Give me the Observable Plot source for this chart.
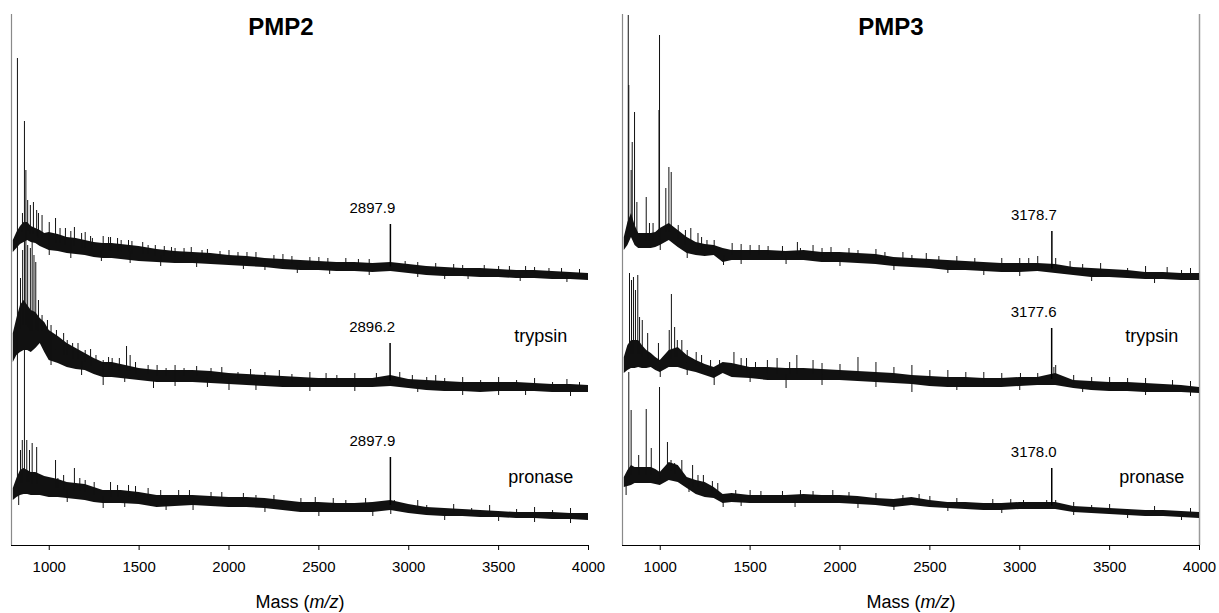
<!DOCTYPE html>
<html>
<head>
<meta charset="utf-8">
<script src="https://cdn.jsdelivr.net/npm/d3@7"></script>
<script src="https://cdn.jsdelivr.net/npm/@observablehq/plot@0.6"></script>
<style>
  html, body { margin: 0; padding: 0; background: #fff; }
  #wrap { position: relative; width: 1219px; height: 613px; font-family: "Liberation Sans", Arial, sans-serif; color: #000; }
  .panel { position: absolute; top: 0; }
  .title { position: absolute; width: 200px; text-align: center; font-weight: bold; font-size: 24px; line-height: 24px; top: 15px; }
  .xlabel { position: absolute; width: 240px; text-align: center; font-size: 18px; line-height: 18px; top: 593px; }
</style>
</head>
<body>
<div id="wrap">
  <div id="left" class="panel" style="left:0px"></div>
  <div id="right" class="panel" style="left:609px"></div>
  <div class="title" style="left:181px">PMP2</div>
  <div class="title" style="left:791px">PMP3</div>
  <div class="xlabel" style="left:180px">Mass (<i>m/z</i>)</div>
  <div class="xlabel" style="left:791px">Mass (<i>m/z</i>)</div>
</div>
<script>
// ---- shared mass grid (m/z) at which the noise band edges were read ----
const mass = [800, 820, 840, 860, 880, 900, 925, 950, 975, 1000, 1050, 1100, 1150, 1200, 1250, 1300, 1350, 1400, 1500, 1600, 1700, 1800, 1900, 2000, 2100, 2200, 2300, 2400, 2500, 2600, 2700, 2800, 2900, 3000, 3100, 3200, 3300, 3400, 3500, 3600, 3700, 3800, 3900, 4000];
const xTicks = [1000, 1500, 2000, 2500, 3000, 3500, 4000];
const enzymeNames = ["trypsin", "pronase"];
const enzymeLabelMass = 3735;
const enzymeLabelLevel = [40.8, 12.6];

// ---- PMP2 (offset intensity, arbitrary units) ----
const pmp2ControlHi = [61.0, 62.6, 63.8, 64.6, 64.6, 63.8, 63.4, 63.0, 62.4, 62.6, 62.2, 61.6, 61.4, 61.0, 60.6, 60.4, 60.4, 60.2, 59.8, 59.2, 58.8, 58.6, 58.4, 58.0, 57.8, 57.4, 57.2, 57.0, 56.8, 56.6, 56.6, 56.4, 56.6, 56.2, 55.8, 55.6, 55.4, 55.4, 55.2, 55.0, 55.0, 54.8, 54.6, 54.4];
const pmp2ControlLo = [58.6, 59.4, 60.2, 60.6, 61.0, 60.6, 60.4, 59.8, 59.4, 59.0, 58.8, 58.4, 58.2, 58.0, 57.6, 57.4, 57.4, 57.2, 56.8, 56.6, 56.4, 56.4, 56.2, 56.0, 55.8, 55.6, 55.2, 55.0, 55.0, 54.8, 54.8, 54.6, 54.8, 54.4, 54.0, 53.8, 53.8, 53.6, 53.6, 53.4, 53.4, 53.2, 53.2, 53.0];
const pmp2ControlSpikes = [[851,66.4],[880,69.0],[895,68.0],[912,68.6],[930,67.0],[940,66.4],[960,66.0],[1000,64.6],[1035,65.4],[1090,63.4],[1140,63.6],[1200,62.6],[1240,61.4],[1300,61.8],[1341,61.6],[1400,61.0],[1441,61.0],[1550,60.0],[1640,59.8],[1700,59.4],[1850,59.0],[2000,59.0],[2150,58.6],[2300,58.2],[2500,57.6],[2650,57.4],[3050,56.6],[3300,56.0],[3500,55.8],[3700,55.6],[3850,55.4],[1000,58.0],[1290,56.8],[2200,55.0],[3200,53.2],
  [1060,63.4],[1120,62.8],[1180,62.4],[1230,61.8],[1330,61.6],[1380,61.4],[1460,60.8],[1520,60.6],[1590,60.0],[1680,59.6],[1750,59.4],[1790,59.6],[1880,59.2],[1950,58.8],[2050,58.6],[2100,58.6],[2250,58.0],[2350,57.8],[2450,57.6],[2550,57.4],[2720,57.2],[2780,57.2],[2980,56.8],[3150,56.4],[3250,56.2],[3420,56.0],[3560,55.8],[3650,55.8],[3780,55.4],[3950,55.2],
  [1120,57.4],[1450,56.4],[1620,55.8],[1820,55.6],[2080,55.2],[2380,54.4],[2560,54.2],[2780,54.0],[3050,53.6],[3330,53.2],[3620,52.8],[3880,52.6]];

const pmp2TrypsinHi = [42.4, 45.4, 48.0, 49.0, 48.0, 47.0, 46.6, 45.4, 44.6, 43.0, 41.8, 40.4, 39.4, 38.4, 37.4, 36.6, 36.6, 36.2, 35.4, 35.0, 35.0, 35.0, 34.8, 34.4, 34.2, 34.0, 33.8, 33.6, 33.4, 33.4, 33.4, 33.4, 34.0, 33.2, 33.0, 32.8, 32.6, 32.6, 32.6, 32.6, 32.4, 32.2, 32.2, 32.0];
const pmp2TrypsinLo = [36.6, 38.0, 38.6, 39.0, 39.0, 38.6, 39.4, 40.4, 38.6, 37.0, 36.4, 35.6, 35.2, 35.0, 34.2, 33.6, 33.6, 33.4, 33.0, 32.6, 32.6, 32.6, 32.4, 32.2, 32.0, 31.8, 31.6, 31.6, 31.6, 31.6, 31.6, 31.6, 31.8, 31.4, 31.0, 30.8, 30.8, 30.6, 30.8, 30.8, 30.8, 30.6, 30.6, 30.6];
const pmp2TrypsinSpikes = [[840,53.4],[852,59.0],[870,75.0],[880,60.0],[895,59.4],[905,61.0],[915,58.0],[925,56.6],[940,49.0],[960,46.0],[990,45.0],[1010,44.0],[1040,43.0],[1080,42.4],[1100,41.0],[1130,40.4],[1200,39.0],[1260,38.0],[1300,37.0],[1350,37.4],[1430,39.8],[1450,38.0],[1550,36.0],[1650,35.4],[1750,35.4],[1900,35.4],[2050,34.6],[2200,34.6],[2350,34.2],[2600,34.0],[2950,34.6],[3100,33.6],[3200,33.4],[3400,33.0],[3600,33.0],[3800,32.6],[3950,32.6],[1010,36.0],[1300,32.0],[1580,31.4],[2000,31.0],[3500,30.0],
  [1160,40.4],[1230,39.2],[1330,37.6],[1390,37.4],[1480,36.6],[1600,36.0],[1700,36.0],[1820,35.8],[1960,35.6],[2120,35.2],[2280,35.0],[2450,34.6],[2540,34.4],[2700,34.4],[2820,34.4],[3020,34.0],[3150,34.0],[3300,33.6],[3500,33.6],[3700,33.4],[3880,33.2],
  [1180,34.0],[1420,32.6],[1700,31.8],[1880,31.6],[2150,31.0],[2450,30.8],[2700,30.8],[3050,30.6],[3300,30.0],[3650,30.0],[3900,29.8]];

const pmp2PronaseHi = [11.4, 13.4, 15.0, 15.4, 15.0, 14.6, 14.6, 14.2, 13.8, 13.6, 13.2, 12.6, 12.4, 12.2, 11.6, 11.0, 11.0, 11.0, 10.6, 10.0, 10.0, 10.0, 9.8, 9.6, 9.6, 9.4, 9.0, 8.6, 8.6, 8.4, 8.4, 8.6, 9.0, 8.2, 7.6, 7.4, 7.2, 7.0, 6.8, 6.6, 6.6, 6.6, 6.4, 6.4];
const pmp2PronaseLo = [9.0, 9.6, 10.0, 10.2, 10.2, 10.0, 10.0, 10.0, 9.8, 9.6, 9.6, 9.4, 9.2, 9.0, 8.6, 8.4, 8.4, 8.4, 8.2, 7.6, 7.8, 8.0, 7.8, 7.6, 7.6, 7.4, 7.0, 6.6, 6.6, 6.6, 6.6, 6.6, 7.0, 6.4, 6.0, 5.8, 5.8, 5.6, 5.6, 5.4, 5.4, 5.2, 5.2, 5.0];
const pmp2PronaseSpikes = [[823,97.4],[862,84.8],[840,19.0],[850,21.0],[875,21.0],[890,19.0],[905,20.4],[930,19.6],[1035,17.0],[1048,13.4],[1140,15.4],[1200,13.0],[1341,12.6],[1441,12.0],[1550,11.4],[1720,11.0],[1900,10.6],[2150,10.0],[2400,9.4],[2650,9.0],[2920,9.0],[3100,8.0],[3350,7.4],[3600,7.2],[3800,7.0],[830,8.0],[1300,7.4],[1650,7.0],[2900,6.2],[3700,4.6],
  [1080,14.0],[1170,13.4],[1250,12.6],[1380,12.0],[1480,11.8],[1620,11.0],[1780,11.0],[1960,10.6],[2080,10.4],[2250,10.0],[2480,9.6],[2580,9.4],[2760,9.4],[3050,9.0],[3250,8.2],[3450,8.0],[3700,7.6],[3900,7.4],
  [1100,8.6],[1420,7.6],[1800,7.0],[2200,6.6],[2500,5.8],[2800,5.8],[3200,5.0],[3500,4.8],[3900,4.4]];

const pmp2Peaks = [[2897.9, 64.2], [2896.2, 40.4], [2897.9, 17.6]];
const pmp2PeakLabels = ["2897.9", "2896.2", "2897.9"];

// ---- PMP3 ----
const pmp3ControlHi = [61.6, 64.6, 66.4, 64.0, 62.4, 62.4, 62.4, 62.4, 62.6, 63.4, 64.4, 63.0, 61.6, 60.6, 60.2, 60.0, 59.4, 59.0, 59.0, 59.0, 58.8, 59.0, 58.6, 58.6, 58.4, 58.2, 57.6, 57.4, 57.2, 57.0, 56.8, 56.6, 56.4, 56.4, 56.4, 56.2, 55.6, 55.4, 55.2, 55.0, 54.6, 54.6, 54.4, 54.4];
const pmp3ControlLo = [59.0, 60.0, 61.6, 60.0, 59.4, 59.4, 59.4, 59.4, 59.6, 60.0, 61.0, 59.6, 58.4, 58.0, 57.8, 58.0, 56.6, 57.0, 57.0, 57.0, 57.0, 57.0, 56.6, 56.6, 56.4, 56.2, 55.8, 55.6, 55.4, 55.0, 55.0, 54.8, 54.6, 54.6, 54.8, 54.4, 54.0, 53.6, 53.6, 53.4, 53.2, 53.2, 53.0, 53.0];
const pmp3ControlSpikes = [[822,106.0],[825,92.0],[838,75.0],[844,80.6],[857,86.6],[870,68.6],[922,69.6],[940,64.4],[960,64.4],[993,87.0],[996,102.0],[1031,71.4],[1048,75.6],[1061,74.6],[1100,64.0],[1140,63.0],[1170,63.4],[1210,62.4],[1260,61.0],[1400,60.4],[1500,60.0],[1600,59.8],[1763,60.6],[1780,59.4],[1900,59.4],[2100,59.0],[2250,58.6],[2400,58.0],[2550,57.8],[2750,57.4],[3000,57.4],[3100,57.8],[3200,57.4],[3350,56.2],[3600,55.4],[3900,55.0],[1352,56.0],[1000,59.0],[2800,54.0],
  [1230,61.6],[1300,61.0],[1450,60.2],[1550,60.0],[1680,59.8],[1850,60.0],[1950,59.6],[2050,59.4],[2200,59.2],[2350,58.6],[2480,58.4],[2650,57.8],[2900,57.4],[3050,57.4],[3280,56.8],[3450,56.4],[3700,55.8],[3820,55.6],[3950,55.4],
  [1150,57.4],[1450,56.2],[1700,56.2],[2000,55.8],[2300,55.0],[2600,54.4],[3000,53.8],[3400,52.8],[3750,52.4]];

const pmp3TrypsinHi = [37.6, 40.0, 41.0, 41.0, 41.0, 40.0, 39.0, 38.4, 37.6, 37.0, 39.0, 39.6, 38.0, 37.0, 36.2, 35.6, 36.6, 36.4, 35.6, 35.6, 35.4, 35.4, 35.2, 35.0, 34.8, 34.6, 34.4, 34.0, 33.8, 33.6, 33.6, 33.4, 33.4, 33.6, 33.6, 34.4, 33.0, 32.8, 32.6, 32.6, 32.4, 32.2, 32.0, 31.6];
const pmp3TrypsinLo = [34.4, 35.0, 35.4, 35.4, 35.6, 35.4, 35.4, 35.6, 35.0, 34.6, 35.6, 35.6, 35.0, 34.6, 34.0, 33.4, 34.4, 33.6, 33.4, 33.0, 33.0, 33.0, 33.0, 33.0, 32.8, 32.6, 32.4, 32.2, 31.8, 31.6, 31.6, 31.6, 31.6, 31.8, 32.0, 32.0, 31.4, 31.0, 30.8, 30.8, 30.6, 30.6, 30.6, 30.4];
const pmp3TrypsinSpikes = [[829,54.4],[840,53.0],[851,53.6],[862,51.0],[875,54.0],[885,45.6],[900,45.0],[930,42.4],[990,40.4],[1050,43.0],[1062,50.2],[1080,43.6],[1095,41.0],[1150,39.0],[1200,38.6],[1280,37.0],[1410,38.6],[1480,37.4],[1596,37.0],[1650,37.4],[1760,38.0],[1850,37.0],[2100,37.6],[2200,36.6],[2400,36.0],[2600,35.0],[2800,34.6],[3004,34.4],[3190,35.6],[3200,36.0],[3400,33.6],[3600,33.4],[3850,33.0],[1300,32.0],[2400,30.6],[1700,31.4],
  [1120,41.0],[1230,38.0],[1330,37.0],[1450,37.4],[1530,36.6],[1720,36.6],[1900,36.4],[2000,36.2],[2300,35.6],[2500,35.0],[2700,34.6],[2900,34.4],[3100,34.4],[3300,34.0],[3500,33.6],[3700,33.4],[3950,32.8],
  [1000,33.6],[1150,34.0],[1500,32.6],[1900,32.0],[2200,31.6],[2650,31.0],[3000,31.0],[3350,30.6],[3700,30.0],[3950,29.8]];

const pmp3PronaseHi = [13.6, 15.0, 16.0, 15.6, 15.6, 15.6, 15.6, 15.6, 15.2, 14.6, 16.6, 16.0, 13.6, 13.0, 12.6, 11.6, 10.2, 10.4, 10.0, 10.0, 10.0, 10.2, 10.0, 10.0, 9.8, 9.4, 9.2, 9.6, 9.0, 8.6, 8.6, 8.4, 8.4, 8.6, 8.6, 8.6, 7.8, 7.6, 7.4, 7.2, 7.0, 7.0, 6.8, 6.6];
const pmp3PronaseLo = [11.6, 11.8, 12.0, 12.4, 12.4, 12.4, 12.4, 12.4, 12.2, 12.0, 13.0, 12.6, 11.4, 10.2, 9.6, 9.4, 8.4, 8.6, 8.4, 8.4, 8.4, 8.4, 8.4, 8.4, 8.2, 8.0, 7.6, 8.0, 7.6, 7.4, 7.2, 7.0, 7.0, 7.2, 7.2, 7.2, 6.6, 6.4, 6.2, 6.0, 5.8, 5.8, 5.6, 5.4];
const pmp3PronaseSpikes = [[825,34.6],[838,27.0],[880,18.0],[922,27.2],[950,19.4],[996,31.6],[1040,20.6],[1060,17.0],[1080,16.4],[1180,16.0],[1240,14.0],[1320,12.4],[1500,11.0],[1780,11.0],[1960,11.0],[2200,10.4],[2440,10.2],[3021,9.0],[3150,9.0],[3200,9.0],[3400,8.0],[810,10.0],[1350,7.6],[2300,7.0],
  [1120,17.0],[1210,14.0],[1290,12.8],[1420,11.0],[1560,10.8],[1680,10.8],[1850,10.8],[2050,10.6],[2350,10.0],[2500,9.8],[2650,9.4],[2850,9.2],[2950,9.2],[3300,8.6],[3500,8.2],[3750,7.8],[3950,7.4],
  [1160,10.6],[1450,7.8],[1750,7.6],[2100,7.4],[2600,6.8],[2900,6.4],[3300,6.0],[3600,5.4],[3900,5.0]];

const pmp3Peaks = [[3178.7, 62.8], [3177.6, 43.4], [3178.0, 15.4]];
const pmp3PeakLabels = ["3178.7", "3177.6", "3178.0"];

// ---- drawing ----
const xDomain = [790, 4000];
const yDomain = [0, 106.2];
const ink = "#111";

function panel(traces, peaks, peakLabels, rightBorder, width, mLeft, mRight) {
  const marks = [];
  marks.push(Plot.ruleX([xDomain[0]], {y1: yDomain[0], y2: yDomain[1], stroke: "#8a8a8a", strokeWidth: 1.2}));
  if (rightBorder) marks.push(Plot.ruleX([xDomain[1]], {y1: yDomain[0], y2: yDomain[1], stroke: "#9a9a9a", strokeWidth: 1.5}));
  marks.push(Plot.ruleY([yDomain[0]], {stroke: "#000", strokeWidth: 1}));
  traces.forEach((t, k) => {
    const rows = mass.map((m, i) => ({m, hi: t.hi[i], lo: t.lo[i]}));
    const base = m => { const i = d3.minIndex(mass, d => Math.abs(d - m)); return (t.hi[i] + t.lo[i]) / 2; };
    marks.push(Plot.areaY(rows, {x: "m", y1: "lo", y2: "hi", fill: ink}));
    marks.push(Plot.ruleX(t.spikes, {x: d => d[0], y1: d => base(d[0]), y2: d => d[1], stroke: ink, strokeWidth: 1}));
    marks.push(Plot.ruleX([peaks[k]], {x: d => d[0], y1: d => base(d[0]), y2: d => d[1], stroke: "#000", strokeWidth: 1.5}));
    marks.push(Plot.text([peaks[k]], {x: d => d[0], y: d => d[1], text: () => peakLabels[k], dx: -18, dy: -12, lineAnchor: "bottom", textAnchor: "middle", fontSize: 15, fill: "#000"}));
  });
  marks.push(Plot.text(enzymeNames, {x: () => enzymeLabelMass, y: (d, i) => enzymeLabelLevel[i], text: d => d, lineAnchor: "bottom", textAnchor: "middle", fontSize: 18, fill: "#000"}));
  marks.push(Plot.axisX({ticks: xTicks, tickSize: 5, tickPadding: 11, tickFormat: "d", fontSize: 15, label: null, stroke: "#000"}));
  return Plot.plot({
    width, height: 613,
    marginLeft: mLeft, marginRight: mRight, marginTop: 14, marginBottom: 68,
    style: {fontFamily: "'Liberation Sans', Arial, sans-serif", fontSize: "15px", color: "#000", background: "#fff"},
    x: {domain: xDomain},
    y: {domain: yDomain, axis: null},
    marks
  });
}

const pmp2Traces = [
  {hi: pmp2ControlHi, lo: pmp2ControlLo, spikes: pmp2ControlSpikes},
  {hi: pmp2TrypsinHi, lo: pmp2TrypsinLo, spikes: pmp2TrypsinSpikes},
  {hi: pmp2PronaseHi, lo: pmp2PronaseLo, spikes: pmp2PronaseSpikes}
];
const pmp3Traces = [
  {hi: pmp3ControlHi, lo: pmp3ControlLo, spikes: pmp3ControlSpikes},
  {hi: pmp3TrypsinHi, lo: pmp3TrypsinLo, spikes: pmp3TrypsinSpikes},
  {hi: pmp3PronaseHi, lo: pmp3PronaseLo, spikes: pmp3PronaseSpikes}
];

document.getElementById("left").appendChild(panel(pmp2Traces, pmp2Peaks, pmp2PeakLabels, false, 609, 11, 21));
document.getElementById("right").appendChild(panel(pmp3Traces, pmp3Peaks, pmp3PeakLabels, true, 610, 13, 20));
</script>
</body>
</html>
